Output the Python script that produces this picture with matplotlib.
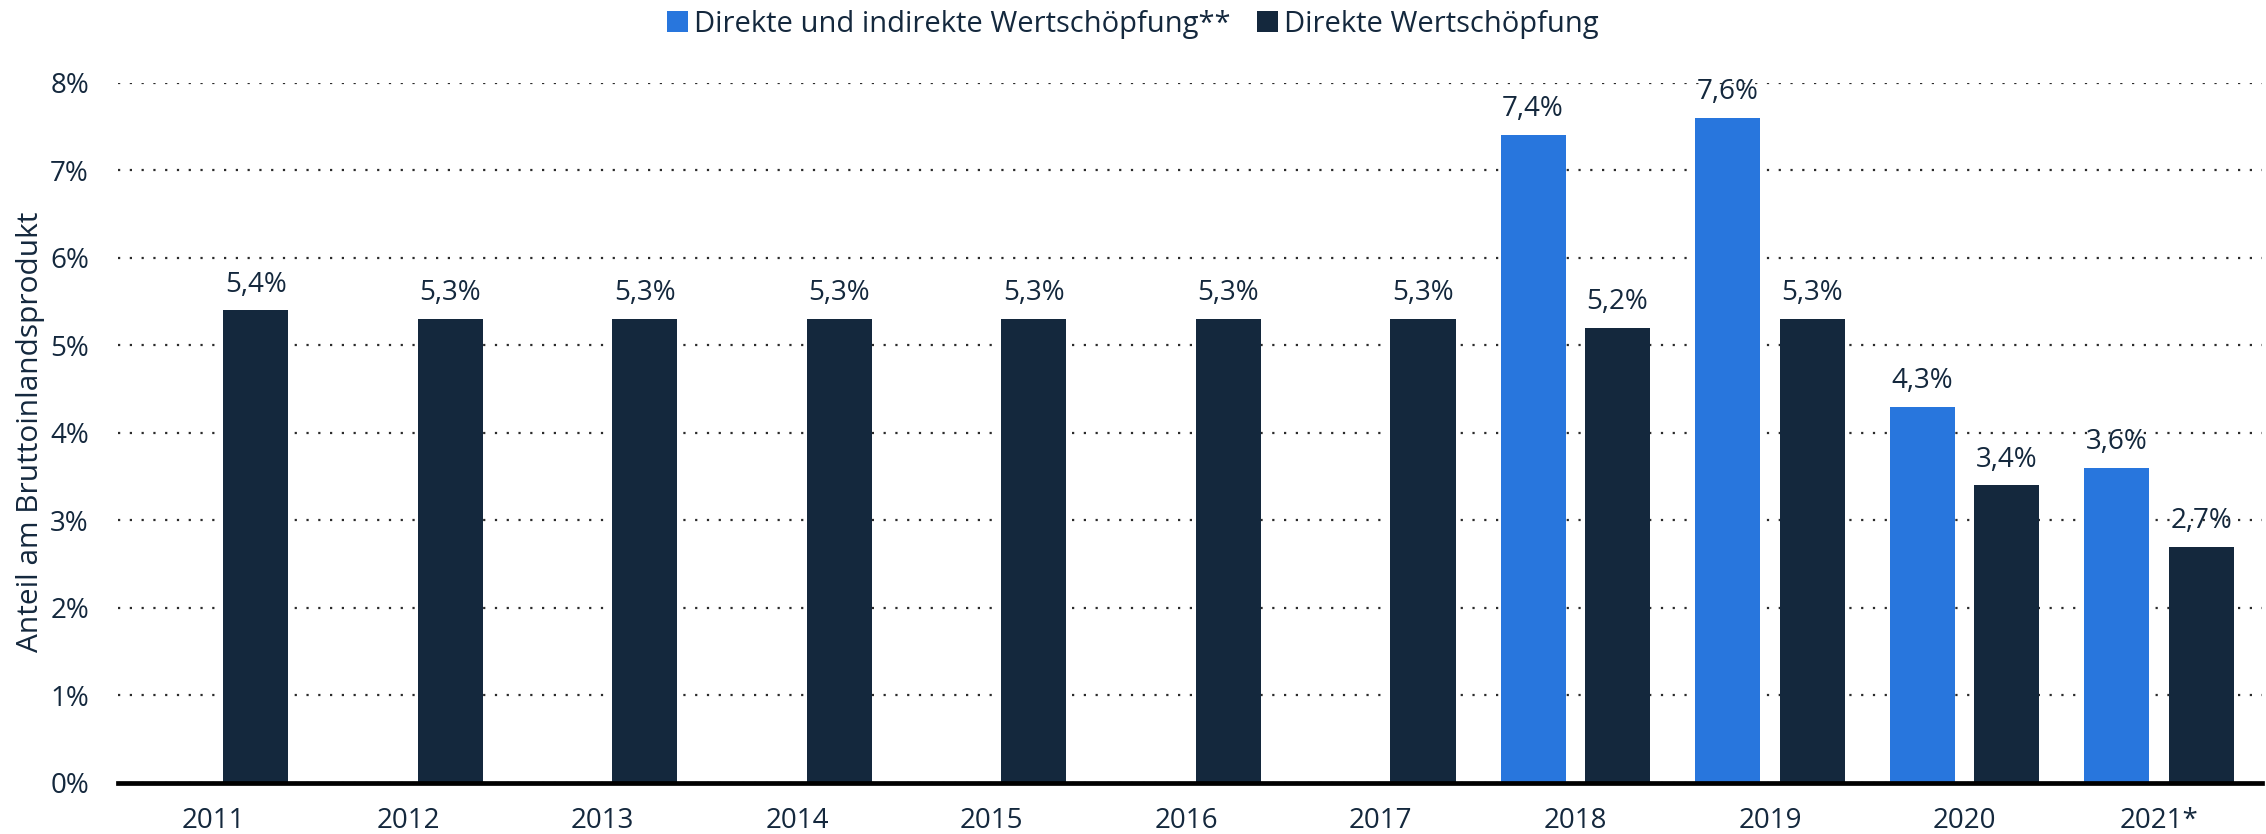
import numpy as np
import matplotlib
matplotlib.use("Agg")
import matplotlib.pyplot as plt
from matplotlib.patches import Patch

plt.rcParams['font.family'] = ['Open Sans', 'DejaVu Sans']

# Daten
years = ['2011', '2012', '2013', '2014', '2015', '2016', '2017',
         '2018', '2019', '2020', '2021*']
direct_indirect = [None, None, None, None, None, None, None, 7.4, 7.6, 4.3, 3.6]
direct = [5.4, 5.3, 5.3, 5.3, 5.3, 5.3, 5.3, 5.2, 5.3, 3.4, 2.7]
y_ticks = [0, 1, 2, 3, 4, 5, 6, 7, 8]

series_names = ['Direkte und indirekte Wertschöpfung**', 'Direkte Wertschöpfung']
colors = ['#2876dd', '#14283d']
text_color = '#14283d'

fig = plt.figure(figsize=(22.66, 8.34), dpi=100)
ax = fig.add_axes([0.0521, 0.0612, 0.9462, 0.8396])

x = np.arange(len(years))
width = 0.335
offset = 0.217


def fmt(v):
    return f'{v:.1f}'.replace('.', ',') + '%'


for vals, off, col in [(direct_indirect, -offset, colors[0]), (direct, offset, colors[1])]:
    for xi, v in zip(x, vals):
        if v is None:
            continue
        ax.bar(xi + off, v, width=width, color=col, zorder=3)
        ax.annotate(fmt(v), (xi + off, v), xytext=(0, 13.5), textcoords='offset points',
                    ha='center', va='baseline', fontsize=20, color=text_color, zorder=4)

ax.set_xlim(-0.49, len(years) - 1 + 0.53)
ax.set_ylim(0, 8)
ax.set_yticks(y_ticks)
ax.set_yticklabels([f'{t}%' for t in y_ticks])
ax.set_xticks(x)
ax.set_xticklabels(years)

ax.tick_params(axis='y', length=0, pad=21, labelsize=20, labelcolor=text_color)
ax.tick_params(axis='x', length=0, pad=17, labelsize=20, labelcolor=text_color)

for s in ax.spines.values():
    s.set_visible(False)

ax.yaxis.grid(True, linestyle=(0, (1, 4.3)), linewidth=1.6, color='#2b2b2b', zorder=0)
ax.set_axisbelow(True)
ax.axhline(0, color='black', linewidth=3.4, zorder=5, clip_on=False)

fig.text(0.0135, 0.482, 'Anteil am Bruttoinlandsprodukt', rotation=90,
         ha='center', va='center', fontsize=21.5, color=text_color)

handles = [Patch(facecolor=c, edgecolor='none') for c in colors]
fig.legend(handles, series_names, loc='center', bbox_to_anchor=(0.5, 0.971), ncol=2,
           frameon=False, fontsize=21, handlelength=0.72, handleheight=0.72,
           handletextpad=0.22, columnspacing=0.9, labelcolor=text_color,
           borderaxespad=0, borderpad=0)

fig.savefig('out.png', dpi=100)
